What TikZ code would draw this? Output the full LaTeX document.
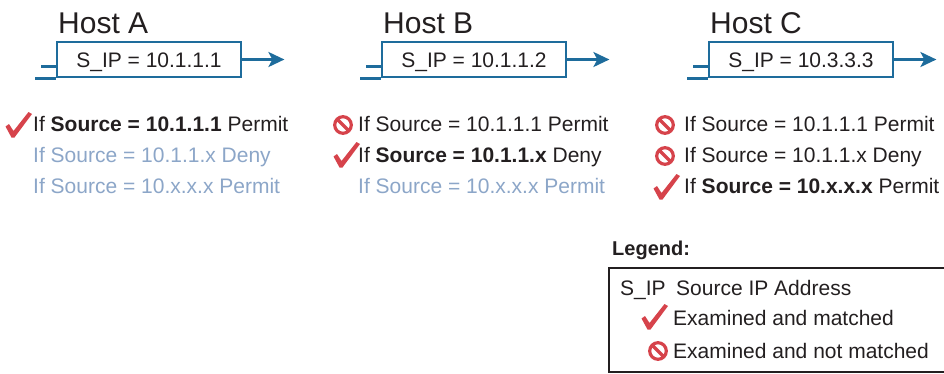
\documentclass[tikz,border=0pt]{standalone}
\usepackage{fontspec}
\setmainfont{Liberation Sans}
\usetikzlibrary{arrows.meta}
\definecolor{pktblue}{RGB}{30,108,156}
\definecolor{redc}{RGB}{214,67,75}
\definecolor{fade}{RGB}{140,166,200}
\definecolor{ink}{RGB}{35,31,32}
\tikzset{
  x=1pt,y=-1pt,
  pkt/.style={draw=pktblue,line width=2.8pt,minimum width=184pt,minimum height=35pt,inner sep=0pt},
  pline/.style={draw=pktblue,line width=2.8pt},
  parrow/.style={draw=pktblue,line width=2.8pt,-{Stealth[length=16pt,width=15pt,inset=4pt]}},
  title/.style={anchor=base west,inner sep=0pt,text=ink,font=\fontsize{30}{34}\selectfont},
  txt/.style={anchor=base west,inner sep=0pt,text=ink,font=\fontsize{21}{25}\selectfont},
  pkttxt/.style={anchor=base,inner sep=0pt,text=ink,font=\fontsize{21}{25}\selectfont},
  faded/.style={txt,text=fade},
  chk/.pic={\fill[redc] (-7.5,-10.5) -- (-4,-13) -- (0.5,-6) -- (15.5,-25) -- (19,-23) -- (1.5,0.5) -- (-1.5,0.5) -- cycle;},
  nosym/.pic={\draw[redc,line width=3.2pt] (0,0) circle (8.3) (-5.9,-5.9) -- (5.9,5.9);},
}
\begin{document}
\begin{tikzpicture}
\useasboundingbox (0,0) rectangle (944,373);
\clip (0,0) rectangle (944,373);
% Host A
\node[title] (hA) at (58,33) {Host A};
\node[pkt] (pA) at (149,59.5) {};
\node[pkttxt] (tA) at (149,67) {S\_IP = 10.1.1.1};
\draw[pline] (pA.south west) -- ++(-21,0);
\draw[pline] (pA.south west) ++(0,-12) -- ++(-15,0);
\coordinate (eA) at ([xshift=42pt]pA.east);
\draw[parrow] (pA.east) -- (eA);
% Host B
\node[title] (hB) at (383,33) {Host B};
\node[pkt] (pB) at (474,59.5) {};
\node[pkttxt] (tB) at (474,67) {S\_IP = 10.1.1.2};
\draw[pline] (pB.south west) -- ++(-21,0);
\draw[pline] (pB.south west) ++(0,-12) -- ++(-15,0);
\coordinate (eB) at ([xshift=42pt]pB.east);
\draw[parrow] (pB.east) -- (eB);
% Host C
\node[title] (hC) at (710,33) {Host C};
\node[pkt] (pC) at (801,59.5) {};
\node[pkttxt] (tC) at (801,67) {S\_IP = 10.3.3.3};
\draw[pline] (pC.south west) -- ++(-21,0);
\draw[pline] (pC.south west) ++(0,-12) -- ++(-15,0);
\coordinate (eC) at ([xshift=42pt]pC.east);
\draw[parrow] (pC.east) -- (eC);
% Rules A
\pic at (13,137) {chk};
\node[txt] (a1) at (33,131) {If \textbf{Source = 10.1.1.1} Permit};
\node[faded] (a2) at (33,162) {If Source = 10.1.1.x Deny};
\node[faded] (a3) at (33,193) {If Source = 10.x.x.x Permit};
% Rules B
\pic at (343,125) {nosym};
\pic at (341,167) {chk};
\node[txt] (b1) at (358,131) {If Source = 10.1.1.1 Permit};
\node[txt] (b2) at (358,162) {If \textbf{Source = 10.1.1.x} Deny};
\node[faded] (b3) at (358,193) {If Source = 10.x.x.x Permit};
% Rules C
\pic at (665,125) {nosym};
\pic at (665,156) {nosym};
\pic at (661,199) {chk};
\node[txt] (c1) at (684,131) {If Source = 10.1.1.1 Permit};
\node[txt] (c2) at (684,162) {If Source = 10.1.1.x Deny};
\node[txt] (c3) at (684,193) {If \textbf{Source = 10.x.x.x} Permit};
% Legend
\node[txt,font=\bfseries\fontsize{20}{24}\selectfont] (lg) at (612,255) {Legend:};
\draw[ink,line width=2.4pt] (609,268) rectangle (960,372);
\node[txt] (l1) at (620,295) {S\_IP};
\node[txt] (l1b) at (676,295) {Source IP Address};
\pic at (649,329) {chk};
\node[txt] (l2) at (673,325) {Examined and matched};
\pic at (658,351) {nosym};
\node[txt] (l3) at (673,358) {Examined and not matched};
\end{tikzpicture}
\end{document}
